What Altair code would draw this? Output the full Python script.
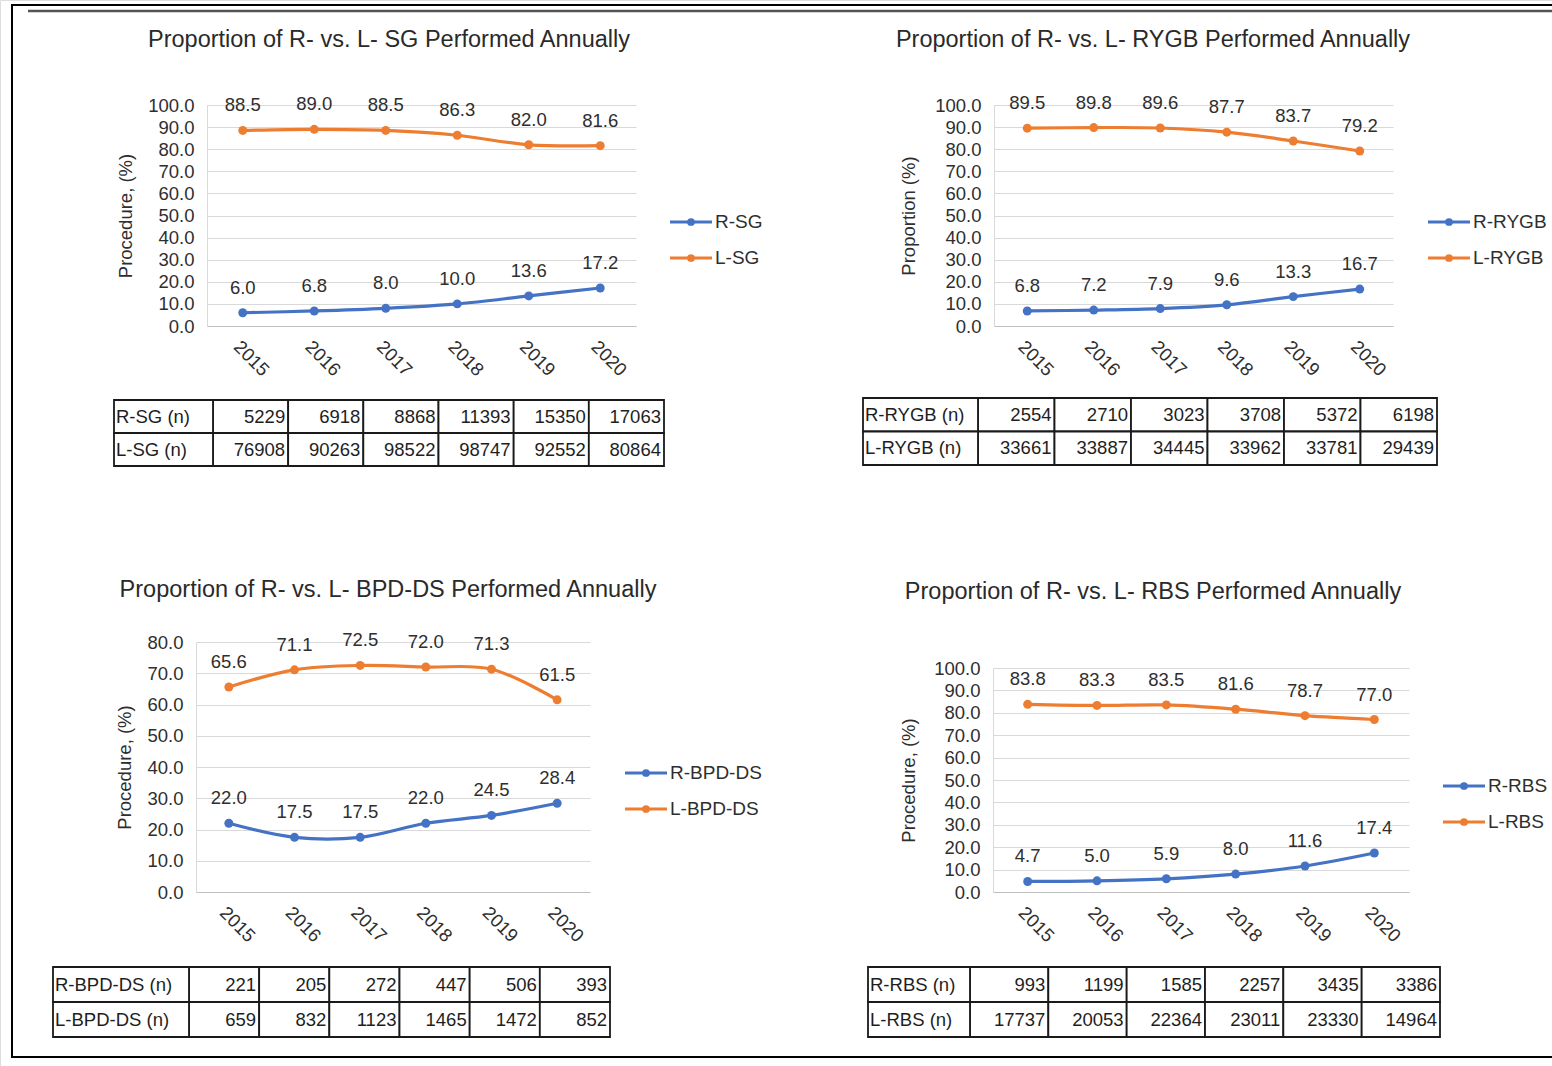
import altair as alt
import pandas as pd

# ---------------- data ----------------
YEARS = ["2015", "2016", "2017", "2018", "2019", "2020"]

SG_R_PCT = [6.0, 6.8, 8.0, 10.0, 13.6, 17.2]
SG_L_PCT = [88.5, 89.0, 88.5, 86.3, 82.0, 81.6]
SG_R_N = [5229, 6918, 8868, 11393, 15350, 17063]
SG_L_N = [76908, 90263, 98522, 98747, 92552, 80864]

RYGB_R_PCT = [6.8, 7.2, 7.9, 9.6, 13.3, 16.7]
RYGB_L_PCT = [89.5, 89.8, 89.6, 87.7, 83.7, 79.2]
RYGB_R_N = [2554, 2710, 3023, 3708, 5372, 6198]
RYGB_L_N = [33661, 33887, 34445, 33962, 33781, 29439]

BPD_R_PCT = [22.0, 17.5, 17.5, 22.0, 24.5, 28.4]
BPD_L_PCT = [65.6, 71.1, 72.5, 72.0, 71.3, 61.5]
BPD_R_N = [221, 205, 272, 447, 506, 393]
BPD_L_N = [659, 832, 1123, 1465, 1472, 852]

RBS_R_PCT = [4.7, 5.0, 5.9, 8.0, 11.6, 17.4]
RBS_L_PCT = [83.8, 83.3, 83.5, 81.6, 78.7, 77.0]
RBS_R_N = [993, 1199, 1585, 2257, 3435, 3386]
RBS_L_N = [17737, 20053, 22364, 23011, 23330, 14964]

# ---------------- style ----------------
W, H = 1552, 1066
FONT = "Liberation Sans"
BLUE = "#4472C4"
ORANGE = "#ED7D31"
TXT = "#2e2e2e"
GRID = "#d9d9d9"
AXIS_GRAY = "#bfbfbf"

PANELS = [
    dict(rname="R-SG", lname="L-SG", rpct=SG_R_PCT, lpct=SG_L_PCT, rn=SG_R_N, ln=SG_L_N,
         title="Proportion of R- vs. L- SG Performed Annually", ytitle="Procedure, (%)", ymax=100,
         tx=389, ty=40, px=(207, 636), py=(326, 105), ytx=125,
         legx=670, legy=(222, 258), tabx=(114, 213, 664), taby=(400, 466)),
    dict(rname="R-RYGB", lname="L-RYGB", rpct=RYGB_R_PCT, lpct=RYGB_L_PCT, rn=RYGB_R_N, ln=RYGB_L_N,
         title="Proportion of R- vs. L- RYGB Performed Annually", ytitle="Proportion (%)", ymax=100,
         tx=1153, ty=40, px=(994, 1393), py=(326, 105), ytx=908,
         legx=1428, legy=(222, 258), tabx=(863, 978, 1437), taby=(398, 465)),
    dict(rname="R-BPD-DS", lname="L-BPD-DS", rpct=BPD_R_PCT, lpct=BPD_L_PCT, rn=BPD_R_N, ln=BPD_L_N,
         title="Proportion of R- vs. L- BPD-DS Performed Annually", ytitle="Procedure, (%)", ymax=80,
         tx=388, ty=590, px=(196, 590), py=(892, 642), ytx=124,
         legx=625, legy=(773, 809), tabx=(53, 189, 610), taby=(967, 1037)),
    dict(rname="R-RBS", lname="L-RBS", rpct=RBS_R_PCT, lpct=RBS_L_PCT, rn=RBS_R_N, ln=RBS_L_N,
         title="Proportion of R- vs. L- RBS Performed Annually", ytitle="Procedure, (%)", ymax=100,
         tx=1153, ty=592, px=(993, 1409), py=(892, 668), ytx=908,
         legx=1443, legy=(786, 822), tabx=(868, 970, 1440), taby=(967, 1037)),
]


def make_panel(p):
    x0, x1 = p["px"]
    yb, yt = p["py"]
    ymax = p["ymax"]
    rname, lname = p["rname"], p["lname"]
    xs = alt.Scale(type="point", domain=YEARS, range=[x0, x1], padding=0.5)
    ys = alt.Scale(type="linear", domain=[0, ymax], range=[yb, yt], nice=False, zero=False)
    cs = alt.Scale(domain=[rname, lname], range=[BLUE, ORANGE])
    col = alt.Color("series:N", scale=cs, legend=None)

    df = pd.DataFrame({
        "year": YEARS * 2,
        "series": [rname] * 6 + [lname] * 6,
        "value": p["rpct"] + p["lpct"],
    })

    x_axis = alt.Axis(orient="bottom", offset=yb - H, labelAngle=45, labelAlign="left",
                      labelBaseline="top", labelPadding=11, ticks=False, domainColor=AXIS_GRAY,
                      domainWidth=1, grid=False, title=None, labelFontSize=18.5, labelColor=TXT,
                      labelFont=FONT, labelOverlap=False)
    y_axis = alt.Axis(orient="left", offset=-x0, values=list(range(0, ymax + 1, 10)), format=".1f",
                      ticks=False, grid=True, gridColor=GRID, gridWidth=1, domainColor=GRID,
                      labelPadding=13, labelFontSize=18.5, labelColor=TXT, labelFont=FONT,
                      labelOverlap=False, title=p["ytitle"], titleX=p["ytx"] - x0,
                      titleY=(yb + yt) / 2, titleAngle=270, titleAlign="center",
                      titleBaseline="middle", titleFontSize=18.5, titleFontWeight="normal",
                      titleColor=TXT, titleFont=FONT)

    base = alt.Chart(df)
    line = base.mark_line(interpolate="catmull-rom", strokeWidth=3.2).encode(
        x=alt.X("year:N", scale=xs, axis=x_axis),
        y=alt.Y("value:Q", scale=ys, axis=y_axis),
        color=col,
    )
    pts = base.mark_circle(size=80, opacity=1).encode(
        x=alt.X("year:N", scale=xs, axis=None),
        y=alt.Y("value:Q", scale=ys, axis=None),
        color=col,
    )
    labels = base.mark_text(dy=-25, fontSize=18.5, font=FONT, color=TXT).encode(
        x=alt.X("year:N", scale=xs, axis=None),
        y=alt.Y("value:Q", scale=ys, axis=None),
        text=alt.Text("value:Q", format=".1f"),
    )

    # legend
    ldf = pd.DataFrame({"series": [rname, lname]})
    lys = alt.Scale(type="point", domain=[rname, lname], range=list(p["legy"]), padding=0)
    lx = p["legx"]
    leg_line = alt.Chart(ldf).mark_rule(strokeWidth=3).encode(
        x=alt.value(lx), x2=alt.value(lx + 42),
        y=alt.Y("series:N", scale=lys, axis=None), color=col)
    leg_pt = alt.Chart(ldf).mark_circle(size=60, opacity=1).encode(
        x=alt.value(lx + 21), y=alt.Y("series:N", scale=lys, axis=None), color=col)
    leg_txt = alt.Chart(ldf).mark_text(align="left", fontSize=19, font=FONT, color=TXT).encode(
        x=alt.value(lx + 45), y=alt.Y("series:N", scale=lys, axis=None), text="series:N")

    # title
    title = alt.Chart(pd.DataFrame({"t": [p["title"]]})).mark_text(
        fontSize=23.5, font=FONT, color="#2a2a2a").encode(
        x=alt.value(p["tx"]), y=alt.value(p["ty"]), text="t:N")

    # table
    ra, rb = rname + " (n)", lname + " (n)"
    tdf = pd.DataFrame({
        "year": YEARS * 2,
        "row": [ra] * 6 + [rb] * 6,
        "n": p["rn"] + p["ln"],
    })
    lab_df = pd.DataFrame({"row": [ra, rb]})
    tl, tm, tr = p["tabx"]
    ty0, ty1 = p["taby"]
    txs = alt.Scale(type="band", domain=YEARS, range=[tm, tr], paddingInner=0, paddingOuter=0)
    tys = alt.Scale(type="band", domain=[ra, rb], range=[ty0, ty1], paddingInner=0, paddingOuter=0)
    cells = alt.Chart(tdf).mark_rect(fill="white", stroke="#1a1a1a", strokeWidth=1.8).encode(
        x=alt.X("year:N", scale=txs, axis=None),
        y=alt.Y("row:N", scale=tys, axis=None))
    lab_cells = alt.Chart(lab_df).mark_rect(fill="white", stroke="#1a1a1a", strokeWidth=1.8).encode(
        x=alt.value(tl), x2=alt.value(tm),
        y=alt.Y("row:N", scale=tys, axis=None))
    lab_txt = alt.Chart(lab_df).mark_text(align="left", fontSize=18.5, font=FONT, color="#1e1e1e").encode(
        x=alt.value(tl + 2), y=alt.Y("row:N", scale=tys, axis=None, bandPosition=0.5), text="row:N")
    num_txt = alt.Chart(tdf).mark_text(align="right", dx=-3, fontSize=18.5, font=FONT, color="#1e1e1e").encode(
        x=alt.X("year:N", scale=txs, axis=None, bandPosition=1),
        y=alt.Y("row:N", scale=tys, axis=None, bandPosition=0.5),
        text="n:Q")

    return [line, pts, labels, leg_line, leg_pt, leg_txt, title,
            cells, lab_cells, lab_txt, num_txt]


layers = []
frame_df = pd.DataFrame({"a": [0]})
frame = alt.Chart(frame_df).mark_rect(fillOpacity=0, stroke="black", strokeWidth=2).encode(
    x=alt.value(12), x2=alt.value(1600), y=alt.value(5), y2=alt.value(1057))
frame2 = alt.Chart(frame_df).mark_rule(stroke="#555555", strokeWidth=2.5).encode(
    x=alt.value(28), x2=alt.value(1600), y=alt.value(11))
layers += [frame, frame2]
for p in PANELS:
    layers += make_panel(p)

chart = alt.layer(*layers).resolve_scale(
    x="independent", y="independent", color="independent"
).properties(
    width=W, height=H, padding=0, autosize=alt.AutoSizeParams(type="none")
).configure_view(stroke=None).configure(background="white", font=FONT)

chart.save("out.html", embed_options={"renderer": "svg", "actions": False})
